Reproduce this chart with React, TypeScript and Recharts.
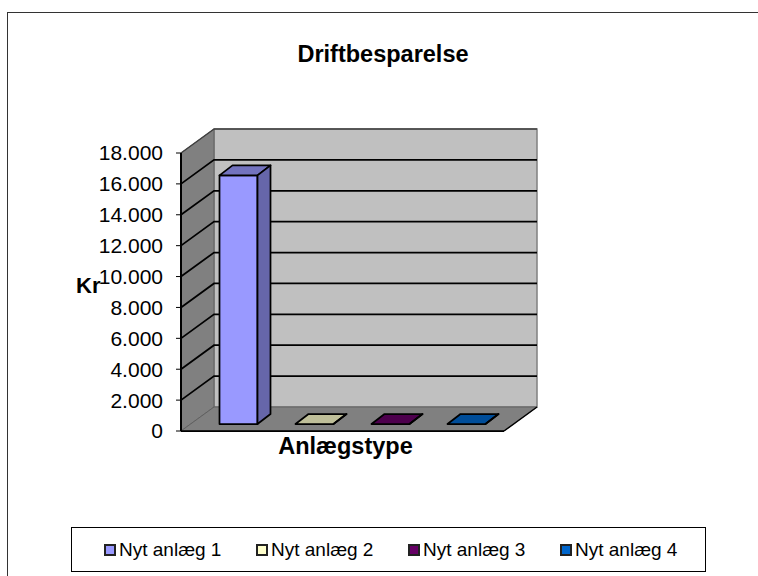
import { BarChart, Bar, XAxis, YAxis, CartesianGrid, Legend } from 'recharts';

const categories = ['Driftbesparelse'];
const seriesNames = ['Nyt anlæg 1', 'Nyt anlæg 2', 'Nyt anlæg 3', 'Nyt anlæg 4'];
const seriesValues = [16100, 0, 0, 0];
const seriesColors = ['#9999FF', '#FFFFCC', '#660066', '#0066CC'];
const topColors = ['#7373BF', '#BFBF99', '#4D004D', '#004D99'];
const sideColors = ['#6666AA', '#AAAA88', '#440044', '#004488'];
const yTicks = [0, 2000, 4000, 6000, 8000, 10000, 12000, 14000, 16000, 18000];

const data = categories.map((name) => {
  const row: Record<string, string | number> = { name };
  seriesNames.forEach((s, i) => {
    row[s] = seriesValues[i];
  });
  return row;
});

// depth of the fake 3d box
const DX = 33;
const DY = 24;
// bars stand a bit inside the floor
const BAR_DX = 9.5;
const BAR_DY = 7;
const BAR_DEPTH_X = 13;
const BAR_DEPTH_Y = 10;

const pts = (list: number[][]) => list.map((p) => p.join(',')).join(' ');

const Walls = ({ x, y, width, height }: any) => {
  const b = y + height;
  const r = x + width;
  return (
    <g>
      <polygon points={pts([[x + DX, y - DY], [r + DX, y - DY], [r + DX, b - DY], [x + DX, b - DY]])} fill="#C0C0C0" stroke="#808080" strokeWidth={1.5} />
      <polygon points={pts([[x, y], [x + DX, y - DY], [x + DX, b - DY], [x, b]])} fill="#808080" stroke="#606060" strokeWidth={1} />
      <polygon points={pts([[x, b], [x + DX, b - DY], [r + DX, b - DY], [r, b]])} fill="#808080" stroke="#606060" strokeWidth={1} />
      <line x1={x + DX} y1={y - DY} x2={r + DX} y2={y - DY} stroke="#404040" strokeWidth={1.5} />
      <line x1={x} y1={y} x2={x + DX} y2={y - DY} stroke="#404040" strokeWidth={1.5} />
      <line x1={r} y1={b} x2={r + DX} y2={b - DY} stroke="#000" strokeWidth={1.5} />
    </g>
  );
};

// the grid draws the walls once and then one bent line per tick
const GridLine = ({ x1, x2, y1, index, x, y, width, height }: any) => {
  const edge = Math.abs(y1 - y) < 1 || Math.abs(y1 - (y + height)) < 1;
  return (
    <g>
      {index === 0 && <Walls x={x} y={y} width={width} height={height} />}
      {!edge && (
        <polyline points={pts([[x1, y1], [x1 + DX, y1 - DY], [x2 + DX, y1 - DY]])} fill="none" stroke="#000" strokeWidth={1.75} />
      )}
    </g>
  );
};

const Bar3D = ({ x, y, width, height, colorIndex }: any) => {
  const l = x + BAR_DX;
  const r = l + width;
  const t = y - BAR_DY;
  const b = t + height;
  const i = colorIndex;
  return (
    <g stroke="#000" strokeWidth={1.75} strokeLinejoin="round">
      <rect x={l} y={t} width={width} height={height} fill={seriesColors[i]} />
      <polygon points={pts([[l, t], [l + BAR_DEPTH_X, t - BAR_DEPTH_Y], [r + BAR_DEPTH_X, t - BAR_DEPTH_Y], [r, t]])} fill={topColors[i]} />
      <polygon points={pts([[r, t], [r + BAR_DEPTH_X, t - BAR_DEPTH_Y], [r + BAR_DEPTH_X, b - BAR_DEPTH_Y], [r, b]])} fill={sideColors[i]} />
    </g>
  );
};

const LegendBox = ({ payload }: any) => (
  <div
    style={{
      boxSizing: 'border-box',
      width: 635,
      height: 45,
      border: '1px solid #000',
      background: '#fff',
      display: 'flex',
      alignItems: 'center',
      paddingLeft: 32,
      fontFamily: '"Liberation Sans", Arial, sans-serif',
      fontSize: 19,
      color: '#000',
      overflow: 'hidden',
    }}
  >
    {(payload ?? []).map((p: any) => (
      <span key={p.value} style={{ display: 'flex', alignItems: 'center', width: 152, flexShrink: 0 }}>
        <span
          style={{
            boxSizing: 'border-box',
            width: 12,
            height: 12,
            border: '2px solid #222',
            background: p.color,
            marginRight: 3,
          }}
        />
        {p.value}
      </span>
    ))}
  </div>
);

export default function App() {
  return (
    <div style={{ position: 'absolute', left: 0, top: 0, width: 758, height: 576, background: '#fff', overflow: 'hidden', fontFamily: '"Liberation Sans", Arial, sans-serif' }}>
      <div style={{ position: 'absolute', left: 7, top: 12, width: 760, height: 570, border: '1px solid #333', boxSizing: 'border-box' }} />
      <div style={{ position: 'absolute', left: 8, top: 41, width: 750, textAlign: 'center', fontSize: 23.5, fontWeight: 'bold', color: '#000' }}>
        Driftbesparelse
      </div>
      <div style={{ position: 'absolute', left: 76, top: 273, fontSize: 22, fontWeight: 'bold', color: '#000', zIndex: 2 }}>Kr</div>
      <BarChart
        width={758}
        height={576}
        data={data}
        margin={{ top: 153, right: 254, bottom: 0, left: 0 }}
        barSize={38}
        barGap={38}
        style={{ position: 'absolute', left: 0, top: 0 }}
      >
        <CartesianGrid vertical={false} stroke="#000" horizontal={(p: any) => <GridLine {...p} />} />
        <XAxis
          dataKey="name"
          tick={false}
          axisLine={{ stroke: '#000', strokeWidth: 1.75 }}
          tickLine={false}
          height={100}
          label={{ value: 'Anlægstype', position: 'insideTop', offset: 6, dx: 3, fontSize: 23.5, fontWeight: 'bold', fill: '#000' }}
        />
        <YAxis
          width={181}
          domain={[0, 18000]}
          ticks={yTicks}
          interval={0}
          tickFormatter={(v: number) => v.toLocaleString('da-DK')}
          tick={{ fontSize: 21, fill: '#000' }}
          tickSize={5}
          tickMargin={13}
          axisLine={{ stroke: '#000', strokeWidth: 2 }}
          tickLine={{ stroke: '#000', strokeWidth: 1 }}
        />
        {seriesNames.map((s, i) => (
          <Bar key={s} dataKey={s} name={s} fill={seriesColors[i]} isAnimationActive={false} shape={(p: any) => <Bar3D {...p} colorIndex={i} />} />
        ))}
        <Legend
          layout="horizontal"
          verticalAlign="bottom"
          wrapperStyle={{ position: 'absolute', left: 71, top: 527, width: 635, height: 45 }}
          content={<LegendBox />}
        />
      </BarChart>
    </div>
  );
}
